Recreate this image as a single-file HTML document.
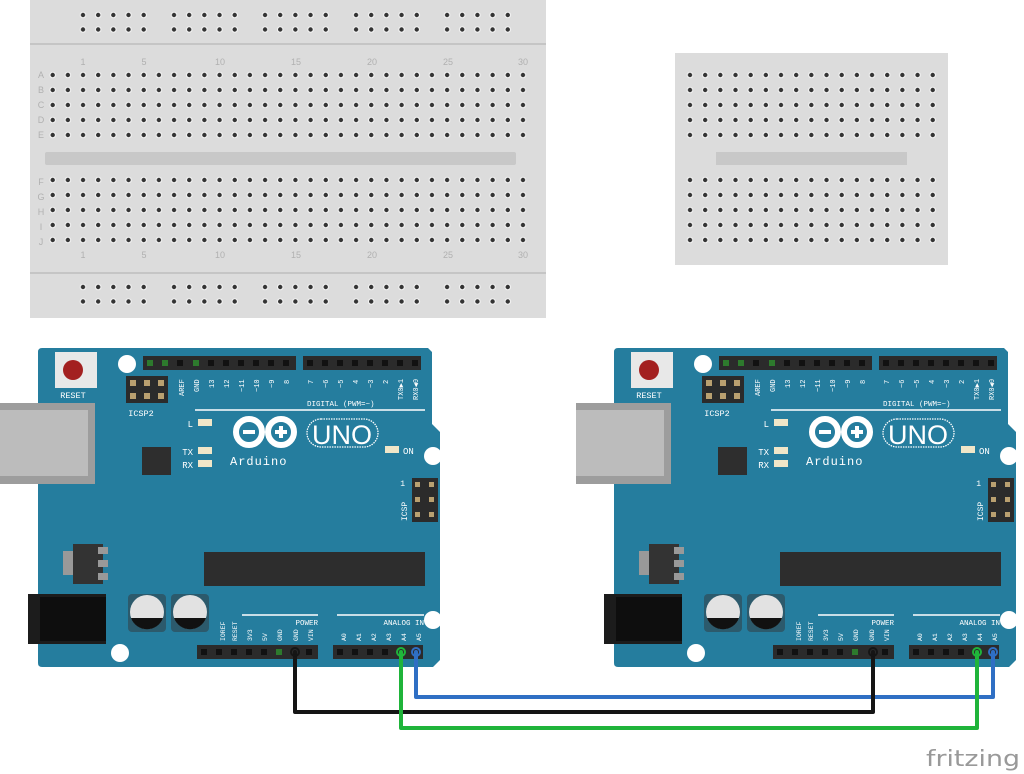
<!DOCTYPE html>
<html><head><meta charset="utf-8"><style>
html,body{margin:0;padding:0;background:#fff;width:1024px;height:774px;overflow:hidden}
svg{display:block}
</style></head><body>
<svg width="1024" height="774" viewBox="0 0 1024 774" xmlns="http://www.w3.org/2000/svg" font-family="Liberation Mono, monospace">
<defs>
<pattern id="h" x="45.1" y="67.5" width="15.17" height="15" patternUnits="userSpaceOnUse"><circle cx="7.6" cy="7.5" r="3.3" fill="#f2f2f2"/><circle cx="7.6" cy="7.5" r="2.2" fill="#333"/></pattern>
<pattern id="hr" x="75.4" y="7.5" width="15.17" height="14.5" patternUnits="userSpaceOnUse"><circle cx="7.6" cy="7.5" r="3.3" fill="#f2f2f2"/><circle cx="7.6" cy="7.5" r="2.2" fill="#333"/></pattern>
<pattern id="hs" x="682.4" y="67.5" width="15.17" height="15" patternUnits="userSpaceOnUse"><circle cx="7.6" cy="7.5" r="3.3" fill="#f2f2f2"/><circle cx="7.6" cy="7.5" r="2.2" fill="#333"/></pattern>
</defs>

<!-- big breadboard -->
<rect x="30" y="0" width="516" height="318" fill="#dcdcdc"/>
<line x1="30" y1="44" x2="546" y2="44" stroke="#bdbdbd" stroke-width="1.5"/>
<line x1="30" y1="273" x2="546" y2="273" stroke="#bdbdbd" stroke-width="1.5"/>
<g fill="url(#hr)">
<rect x="75.4" y="7.5" width="75.9" height="29"/><rect x="166.4" y="7.5" width="75.9" height="29"/><rect x="257.4" y="7.5" width="75.9" height="29"/><rect x="348.4" y="7.5" width="75.9" height="29"/><rect x="439.4" y="7.5" width="75.9" height="29"/>
</g>
<g fill="url(#hr)" transform="translate(0,272)">
<rect x="75.4" y="7.5" width="75.9" height="29"/><rect x="166.4" y="7.5" width="75.9" height="29"/><rect x="257.4" y="7.5" width="75.9" height="29"/><rect x="348.4" y="7.5" width="75.9" height="29"/><rect x="439.4" y="7.5" width="75.9" height="29"/>
</g>
<rect x="45.1" y="67.5" width="485.5" height="75" fill="url(#h)"/>
<rect x="45.1" y="174.5" width="485.5" height="75" fill="url(#h)"/>
<rect x="45" y="152" width="471" height="13" fill="#c8c8c8" rx="2"/>
<g font-family="Liberation Sans, sans-serif" font-size="9" fill="#b0b0b0" text-anchor="middle">
<text x="83" y="65">1</text><text x="144" y="65">5</text><text x="220" y="65">10</text><text x="296" y="65">15</text><text x="372" y="65">20</text><text x="448" y="65">25</text><text x="523" y="65">30</text>
<text x="83" y="258">1</text><text x="144" y="258">5</text><text x="220" y="258">10</text><text x="296" y="258">15</text><text x="372" y="258">20</text><text x="448" y="258">25</text><text x="523" y="258">30</text>
<text x="41" y="78">A</text><text x="41" y="93">B</text><text x="41" y="108">C</text><text x="41" y="123">D</text><text x="41" y="138">E</text>
<text x="41" y="185">F</text><text x="41" y="200">G</text><text x="41" y="215">H</text><text x="41" y="230">I</text><text x="41" y="245">J</text>
</g>

<!-- small breadboard -->
<rect x="675" y="53" width="273" height="212" fill="#dcdcdc"/>
<rect x="682.4" y="67.5" width="258" height="75" fill="url(#hs)"/>
<rect x="682.4" y="174.5" width="258" height="75" fill="url(#hs)"/>
<rect x="716" y="152" width="191" height="13" fill="#c8c8c8"/>

<!-- Arduino 1 -->
<g>
<path d="M42,348 H428 L432,352 V424 L440,432 V660 L433,667 H42 Q38,667 38,663 V352 Q38,348 42,348 Z" fill="#257d9e"/>
<rect x="0" y="403" width="95" height="81" fill="#9d9d9d"/><rect x="0" y="410" width="88" height="66" fill="#bcbcbc"/>
<rect x="55" y="352" width="42" height="36" fill="#e8e8e8"/><circle cx="73" cy="370" r="10" fill="#a32020"/>
<text x="73" y="398" font-size="8.5" fill="#fff" text-anchor="middle">RESET</text>
<rect x="126" y="376" width="42" height="27" fill="#2b2b2b"/>
<g fill="#b9a070"><rect x="130" y="380" width="6" height="6"/><rect x="144" y="380" width="6" height="6"/><rect x="158" y="380" width="6" height="6"/><rect x="130" y="393" width="6" height="6"/><rect x="144" y="393" width="6" height="6"/><rect x="158" y="393" width="6" height="6"/></g>
<text x="141" y="416" font-size="8.5" fill="#fff" text-anchor="middle">ICSP2</text>
<rect x="143" y="356" width="153" height="14" fill="#2b2b2b"/>
<g fill="#111"><rect x="177" y="360" width="6" height="6"/><rect x="208" y="360" width="6" height="6"/><rect x="223" y="360" width="6" height="6"/><rect x="238" y="360" width="6" height="6"/><rect x="253" y="360" width="6" height="6"/><rect x="268" y="360" width="6" height="6"/><rect x="283" y="360" width="6" height="6"/></g>
<rect x="147" y="360" width="6" height="6" fill="#2d7a2d"/><rect x="162" y="360" width="6" height="6" fill="#2d7a2d"/><rect x="193" y="360" width="6" height="6" fill="#2d7a2d"/>
<rect x="303" y="356" width="118" height="14" fill="#2b2b2b"/>
<g fill="#111"><rect x="307" y="360" width="6" height="6"/><rect x="322" y="360" width="6" height="6"/><rect x="337" y="360" width="6" height="6"/><rect x="352" y="360" width="6" height="6"/><rect x="367" y="360" width="6" height="6"/><rect x="382" y="360" width="6" height="6"/><rect x="397" y="360" width="6" height="6"/><rect x="412" y="360" width="6" height="6"/></g>
<g font-size="7" fill="#fff">
<text transform="translate(184,396) rotate(-90)">AREF</text><text transform="translate(199,392) rotate(-90)">GND</text>
<text transform="translate(214,388) rotate(-90)">13</text><text transform="translate(229,388) rotate(-90)">12</text><text transform="translate(244,392) rotate(-90)">~11</text><text transform="translate(259,392) rotate(-90)">~10</text><text transform="translate(274,388) rotate(-90)">~9</text><text transform="translate(289,384) rotate(-90)">8</text>
<text transform="translate(313,384) rotate(-90)">7</text><text transform="translate(328,388) rotate(-90)">~6</text><text transform="translate(343,388) rotate(-90)">~5</text><text transform="translate(358,384) rotate(-90)">4</text><text transform="translate(373,388) rotate(-90)">~3</text><text transform="translate(388,384) rotate(-90)">2</text><text transform="translate(403,400) rotate(-90)">TX0▶1</text><text transform="translate(418,400) rotate(-90)">RX0◀0</text>
</g>
<text x="307" y="406" font-size="7.5" fill="#fff">DIGITAL (PWM=~)</text>
<line x1="195" y1="410" x2="425" y2="410" stroke="#fff" stroke-width="1.5"/>
<text x="193" y="427" font-size="9" fill="#fff" text-anchor="end">L</text><rect x="198" y="419" width="14" height="7" fill="#f0e6c8"/>
<text x="193" y="455" font-size="9" fill="#fff" text-anchor="end">TX</text><rect x="198" y="447" width="14" height="7" fill="#f0e6c8"/>
<text x="193" y="468" font-size="9" fill="#fff" text-anchor="end">RX</text><rect x="198" y="460" width="14" height="7" fill="#f0e6c8"/>
<rect x="142" y="447" width="29" height="28" fill="#2e2e2e"/>
<g fill="none" stroke="#fff" stroke-width="6"><circle cx="249" cy="432" r="13"/><circle cx="281" cy="432" r="13"/></g>
<rect x="243" y="430" width="12" height="4" fill="#fff"/><rect x="275" y="430" width="12" height="4" fill="#fff"/><rect x="279" y="426" width="4" height="12" fill="#fff"/>
<rect x="307" y="419" width="71" height="28" rx="14" fill="none" stroke="#fff" stroke-width="1.3" stroke-dasharray="1.5 1"/>
<text x="342" y="444" font-family="Liberation Sans, sans-serif" font-size="27" fill="#fff" text-anchor="middle">UNO</text>
<text x="230" y="465" font-size="12" fill="#fff" letter-spacing="1">Arduino</text>
<rect x="385" y="446" width="14" height="7" fill="#f0e6c8"/><text x="403" y="454" font-size="9" fill="#fff">ON</text>
<circle cx="127" cy="364" r="9" fill="#fff"/><circle cx="433" cy="456" r="9" fill="#fff"/><circle cx="433" cy="620" r="9" fill="#fff"/><circle cx="120" cy="653" r="9" fill="#fff"/>
<rect x="412" y="478" width="26" height="44" fill="#2b2b2b"/>
<g fill="#b9a070"><rect x="415" y="482" width="5" height="5"/><rect x="429" y="482" width="5" height="5"/><rect x="415" y="497" width="5" height="5"/><rect x="429" y="497" width="5" height="5"/><rect x="415" y="512" width="5" height="5"/><rect x="429" y="512" width="5" height="5"/></g>
<text x="405" y="486" font-size="8" fill="#fff" text-anchor="end">1</text>
<text transform="translate(407,521) rotate(-90)" font-size="8" fill="#fff">ICSP</text>
<rect x="204" y="552" width="221" height="34" fill="#2d2d2d"/>
<rect x="63" y="551" width="10" height="24" fill="#999"/><rect x="73" y="544" width="30" height="40" fill="#333"/>
<rect x="98" y="547" width="10" height="7" fill="#999"/><rect x="98" y="560" width="10" height="7" fill="#999"/><rect x="98" y="573" width="10" height="7" fill="#999"/>
<rect x="28" y="594" width="78" height="50" fill="#1c1c1c"/><rect x="40" y="597" width="66" height="44" fill="#0e0e0e"/>
<rect x="128" y="594" width="38" height="38" rx="4" fill="#2c5a6c"/><rect x="171" y="594" width="38" height="38" rx="4" fill="#2c5a6c"/>
<circle cx="147" cy="612" r="17" fill="#e2e2e2"/><path d="M131,618 A17,17 0 0 0 163,618 Z" fill="#111"/>
<circle cx="190" cy="612" r="17" fill="#e2e2e2"/><path d="M174,618 A17,17 0 0 0 206,618 Z" fill="#111"/>
<line x1="242" y1="615" x2="318" y2="615" stroke="#fff" stroke-width="1.5"/>
<line x1="337" y1="615" x2="424" y2="615" stroke="#fff" stroke-width="1.5"/>
<text x="318" y="625" font-size="7.5" fill="#fff" text-anchor="end">POWER</text>
<text x="424" y="625" font-size="7.5" fill="#fff" text-anchor="end">ANALOG IN</text>
<g font-size="6.5" fill="#fff">
<text transform="translate(225,641) rotate(-90)">IOREF</text><text transform="translate(237,641) rotate(-90)">RESET</text><text transform="translate(252,641) rotate(-90)">3V3</text><text transform="translate(267,641) rotate(-90)">5V</text><text transform="translate(282,641) rotate(-90)">GND</text><text transform="translate(298,641) rotate(-90)">GND</text><text transform="translate(313,641) rotate(-90)">VIN</text>
<text transform="translate(346,641) rotate(-90)">A0</text><text transform="translate(361,641) rotate(-90)">A1</text><text transform="translate(376,641) rotate(-90)">A2</text><text transform="translate(391,641) rotate(-90)">A3</text><text transform="translate(406,641) rotate(-90)">A4</text><text transform="translate(421,641) rotate(-90)">A5</text>
</g>
<rect x="197" y="645" width="121" height="14" fill="#2b2b2b"/>
<g fill="#111"><rect x="201" y="649" width="6" height="6"/><rect x="216" y="649" width="6" height="6"/><rect x="231" y="649" width="6" height="6"/><rect x="246" y="649" width="6" height="6"/><rect x="261" y="649" width="6" height="6"/><rect x="276" y="649" width="6" height="6" fill="#2d7a2d"/><rect x="306" y="649" width="6" height="6"/></g>
<rect x="333" y="645" width="90" height="14" fill="#2b2b2b"/>
<g fill="#111"><rect x="337" y="649" width="6" height="6"/><rect x="352" y="649" width="6" height="6"/><rect x="367" y="649" width="6" height="6"/><rect x="382" y="649" width="6" height="6"/></g>
</g>

<!-- Arduino 2 -->
<g transform="translate(576,0)">
<path d="M42,348 H428 L432,352 V424 L440,432 V660 L433,667 H42 Q38,667 38,663 V352 Q38,348 42,348 Z" fill="#257d9e"/>
<rect x="0" y="403" width="95" height="81" fill="#9d9d9d"/><rect x="0" y="410" width="88" height="66" fill="#bcbcbc"/>
<rect x="55" y="352" width="42" height="36" fill="#e8e8e8"/><circle cx="73" cy="370" r="10" fill="#a32020"/>
<text x="73" y="398" font-size="8.5" fill="#fff" text-anchor="middle">RESET</text>
<rect x="126" y="376" width="42" height="27" fill="#2b2b2b"/>
<g fill="#b9a070"><rect x="130" y="380" width="6" height="6"/><rect x="144" y="380" width="6" height="6"/><rect x="158" y="380" width="6" height="6"/><rect x="130" y="393" width="6" height="6"/><rect x="144" y="393" width="6" height="6"/><rect x="158" y="393" width="6" height="6"/></g>
<text x="141" y="416" font-size="8.5" fill="#fff" text-anchor="middle">ICSP2</text>
<rect x="143" y="356" width="153" height="14" fill="#2b2b2b"/>
<g fill="#111"><rect x="177" y="360" width="6" height="6"/><rect x="208" y="360" width="6" height="6"/><rect x="223" y="360" width="6" height="6"/><rect x="238" y="360" width="6" height="6"/><rect x="253" y="360" width="6" height="6"/><rect x="268" y="360" width="6" height="6"/><rect x="283" y="360" width="6" height="6"/></g>
<rect x="147" y="360" width="6" height="6" fill="#2d7a2d"/><rect x="162" y="360" width="6" height="6" fill="#2d7a2d"/><rect x="193" y="360" width="6" height="6" fill="#2d7a2d"/>
<rect x="303" y="356" width="118" height="14" fill="#2b2b2b"/>
<g fill="#111"><rect x="307" y="360" width="6" height="6"/><rect x="322" y="360" width="6" height="6"/><rect x="337" y="360" width="6" height="6"/><rect x="352" y="360" width="6" height="6"/><rect x="367" y="360" width="6" height="6"/><rect x="382" y="360" width="6" height="6"/><rect x="397" y="360" width="6" height="6"/><rect x="412" y="360" width="6" height="6"/></g>
<g font-size="7" fill="#fff">
<text transform="translate(184,396) rotate(-90)">AREF</text><text transform="translate(199,392) rotate(-90)">GND</text>
<text transform="translate(214,388) rotate(-90)">13</text><text transform="translate(229,388) rotate(-90)">12</text><text transform="translate(244,392) rotate(-90)">~11</text><text transform="translate(259,392) rotate(-90)">~10</text><text transform="translate(274,388) rotate(-90)">~9</text><text transform="translate(289,384) rotate(-90)">8</text>
<text transform="translate(313,384) rotate(-90)">7</text><text transform="translate(328,388) rotate(-90)">~6</text><text transform="translate(343,388) rotate(-90)">~5</text><text transform="translate(358,384) rotate(-90)">4</text><text transform="translate(373,388) rotate(-90)">~3</text><text transform="translate(388,384) rotate(-90)">2</text><text transform="translate(403,400) rotate(-90)">TX0▶1</text><text transform="translate(418,400) rotate(-90)">RX0◀0</text>
</g>
<text x="307" y="406" font-size="7.5" fill="#fff">DIGITAL (PWM=~)</text>
<line x1="195" y1="410" x2="425" y2="410" stroke="#fff" stroke-width="1.5"/>
<text x="193" y="427" font-size="9" fill="#fff" text-anchor="end">L</text><rect x="198" y="419" width="14" height="7" fill="#f0e6c8"/>
<text x="193" y="455" font-size="9" fill="#fff" text-anchor="end">TX</text><rect x="198" y="447" width="14" height="7" fill="#f0e6c8"/>
<text x="193" y="468" font-size="9" fill="#fff" text-anchor="end">RX</text><rect x="198" y="460" width="14" height="7" fill="#f0e6c8"/>
<rect x="142" y="447" width="29" height="28" fill="#2e2e2e"/>
<g fill="none" stroke="#fff" stroke-width="6"><circle cx="249" cy="432" r="13"/><circle cx="281" cy="432" r="13"/></g>
<rect x="243" y="430" width="12" height="4" fill="#fff"/><rect x="275" y="430" width="12" height="4" fill="#fff"/><rect x="279" y="426" width="4" height="12" fill="#fff"/>
<rect x="307" y="419" width="71" height="28" rx="14" fill="none" stroke="#fff" stroke-width="1.3" stroke-dasharray="1.5 1"/>
<text x="342" y="444" font-family="Liberation Sans, sans-serif" font-size="27" fill="#fff" text-anchor="middle">UNO</text>
<text x="230" y="465" font-size="12" fill="#fff" letter-spacing="1">Arduino</text>
<rect x="385" y="446" width="14" height="7" fill="#f0e6c8"/><text x="403" y="454" font-size="9" fill="#fff">ON</text>
<circle cx="127" cy="364" r="9" fill="#fff"/><circle cx="433" cy="456" r="9" fill="#fff"/><circle cx="433" cy="620" r="9" fill="#fff"/><circle cx="120" cy="653" r="9" fill="#fff"/>
<rect x="412" y="478" width="26" height="44" fill="#2b2b2b"/>
<g fill="#b9a070"><rect x="415" y="482" width="5" height="5"/><rect x="429" y="482" width="5" height="5"/><rect x="415" y="497" width="5" height="5"/><rect x="429" y="497" width="5" height="5"/><rect x="415" y="512" width="5" height="5"/><rect x="429" y="512" width="5" height="5"/></g>
<text x="405" y="486" font-size="8" fill="#fff" text-anchor="end">1</text>
<text transform="translate(407,521) rotate(-90)" font-size="8" fill="#fff">ICSP</text>
<rect x="204" y="552" width="221" height="34" fill="#2d2d2d"/>
<rect x="63" y="551" width="10" height="24" fill="#999"/><rect x="73" y="544" width="30" height="40" fill="#333"/>
<rect x="98" y="547" width="10" height="7" fill="#999"/><rect x="98" y="560" width="10" height="7" fill="#999"/><rect x="98" y="573" width="10" height="7" fill="#999"/>
<rect x="28" y="594" width="78" height="50" fill="#1c1c1c"/><rect x="40" y="597" width="66" height="44" fill="#0e0e0e"/>
<rect x="128" y="594" width="38" height="38" rx="4" fill="#2c5a6c"/><rect x="171" y="594" width="38" height="38" rx="4" fill="#2c5a6c"/>
<circle cx="147" cy="612" r="17" fill="#e2e2e2"/><path d="M131,618 A17,17 0 0 0 163,618 Z" fill="#111"/>
<circle cx="190" cy="612" r="17" fill="#e2e2e2"/><path d="M174,618 A17,17 0 0 0 206,618 Z" fill="#111"/>
<line x1="242" y1="615" x2="318" y2="615" stroke="#fff" stroke-width="1.5"/>
<line x1="337" y1="615" x2="424" y2="615" stroke="#fff" stroke-width="1.5"/>
<text x="318" y="625" font-size="7.5" fill="#fff" text-anchor="end">POWER</text>
<text x="424" y="625" font-size="7.5" fill="#fff" text-anchor="end">ANALOG IN</text>
<g font-size="6.5" fill="#fff">
<text transform="translate(225,641) rotate(-90)">IOREF</text><text transform="translate(237,641) rotate(-90)">RESET</text><text transform="translate(252,641) rotate(-90)">3V3</text><text transform="translate(267,641) rotate(-90)">5V</text><text transform="translate(282,641) rotate(-90)">GND</text><text transform="translate(298,641) rotate(-90)">GND</text><text transform="translate(313,641) rotate(-90)">VIN</text>
<text transform="translate(346,641) rotate(-90)">A0</text><text transform="translate(361,641) rotate(-90)">A1</text><text transform="translate(376,641) rotate(-90)">A2</text><text transform="translate(391,641) rotate(-90)">A3</text><text transform="translate(406,641) rotate(-90)">A4</text><text transform="translate(421,641) rotate(-90)">A5</text>
</g>
<rect x="197" y="645" width="121" height="14" fill="#2b2b2b"/>
<g fill="#111"><rect x="201" y="649" width="6" height="6"/><rect x="216" y="649" width="6" height="6"/><rect x="231" y="649" width="6" height="6"/><rect x="246" y="649" width="6" height="6"/><rect x="261" y="649" width="6" height="6"/><rect x="276" y="649" width="6" height="6" fill="#2d7a2d"/><rect x="306" y="649" width="6" height="6"/></g>
<rect x="333" y="645" width="90" height="14" fill="#2b2b2b"/>
<g fill="#111"><rect x="337" y="649" width="6" height="6"/><rect x="352" y="649" width="6" height="6"/><rect x="367" y="649" width="6" height="6"/><rect x="382" y="649" width="6" height="6"/></g>
</g>

<!-- wires -->
<g fill="none" stroke-width="4" stroke-linejoin="round" stroke-linecap="round">
<path d="M416,652 V697 H993 V652" stroke="#2f6fc4"/>
<path d="M295,652 V712 H873 V652" stroke="#151515"/>
<path d="M401,652 V728 H977 V652" stroke="#1fb43a"/>
</g>
<g fill="none" stroke-width="2"><circle cx="295" cy="652" r="4" stroke="#151515"/><circle cx="873" cy="652" r="4" stroke="#151515"/><circle cx="401" cy="652" r="4" stroke="#1fb43a"/><circle cx="977" cy="652" r="4" stroke="#1fb43a"/><circle cx="416" cy="652" r="4" stroke="#2f6fc4"/><circle cx="993" cy="652" r="4" stroke="#2f6fc4"/></g>

<text x="926" y="766" font-family="DejaVu Sans, sans-serif" font-size="22" fill="#999" textLength="94" lengthAdjust="spacingAndGlyphs">fritzing</text>
</svg>
</body></html>
